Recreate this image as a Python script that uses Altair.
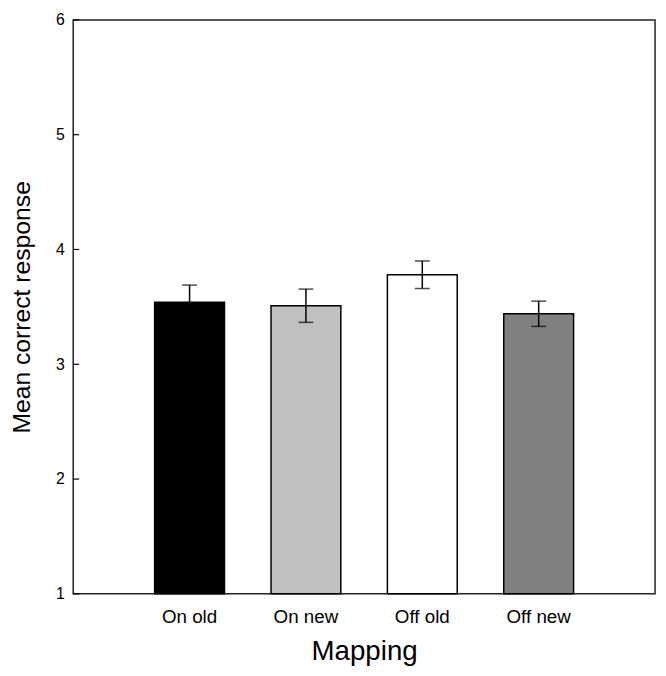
import altair as alt
import pandas as pd

categories = ["On old", "On new", "Off old", "Off new"]
means = [3.54, 3.51, 3.78, 3.44]
errors = [0.15, 0.145, 0.12, 0.11]
colors = ["#000000", "#c0c0c0", "#ffffff", "#808080"]
y_ticks = [1, 2, 3, 4, 5, 6]

df = pd.DataFrame({"cat": categories, "mean": means, "err": errors, "color": colors})
df["lo"] = df["mean"] - df["err"]
df["hi"] = df["mean"] + df["err"]
tick_df = pd.DataFrame({"v": y_ticks})

font = "Liberation Sans"
ytitle = "Mean correct response"
xscale = alt.Scale(domain=categories, paddingInner=0.4, paddingOuter=0.7)
yscale = alt.Scale(domain=[1, 6], nice=False, zero=False)

x_enc = alt.X(
    "cat:N", scale=xscale, sort=categories,
    axis=alt.Axis(title="Mapping", labelAngle=0, ticks=False, domain=False,
                  labelFontSize=19, titleFontSize=28, labelPadding=14, titlePadding=11,
                  titleFontWeight="normal", labelFont=font, titleFont=font,
                  labelColor="black", titleColor="black"),
)
x_plain = alt.X("cat:N", scale=xscale, sort=categories, title="Mapping")
y_axis = alt.Axis(title=ytitle, values=y_ticks, format="d", ticks=False, domain=False,
                  grid=False, labelFontSize=16, titleFontSize=25, labelPadding=9,
                  titlePadding=21, titleFontWeight="normal", labelFont=font, titleFont=font,
                  labelColor="black", titleColor="black")

bars = alt.Chart(df).mark_bar(stroke="black", strokeWidth=1.5).encode(
    x=x_enc,
    y=alt.Y("mean:Q", scale=yscale, axis=y_axis),
    y2=alt.datum(1),
    fill=alt.Color("color:N", scale=None),
)

err_rule = alt.Chart(df).mark_rule(color="black", strokeWidth=1.5).encode(
    x=x_plain,
    y=alt.Y("lo:Q", scale=yscale, title=ytitle),
    y2="hi:Q",
)
cap_lo = alt.Chart(df).mark_tick(color="black", thickness=1.5, size=15).encode(
    x=x_plain,
    y=alt.Y("lo:Q", scale=yscale, title=ytitle),
)
cap_hi = alt.Chart(df).mark_tick(color="black", thickness=1.5, size=15).encode(
    x=x_plain,
    y=alt.Y("hi:Q", scale=yscale, title=ytitle),
)
inner_ticks = alt.Chart(tick_df).mark_rule(color="black", strokeWidth=1.2).encode(
    y=alt.Y("v:Q", scale=yscale, title=ytitle),
    x=alt.value(0),
    x2=alt.value(6),
)

chart = alt.layer(bars, err_rule, cap_lo, cap_hi, inner_ticks).properties(
    width=589, height=581,
    autosize=alt.AutoSizeParams(type="none"),
    padding={"left": 66, "top": 8, "right": 3, "bottom": 71},
    background="white",
).configure_view(stroke="#222", strokeWidth=1.5, fill="white")

chart.save("out.html", embed_options={"renderer": "svg", "actions": False})
